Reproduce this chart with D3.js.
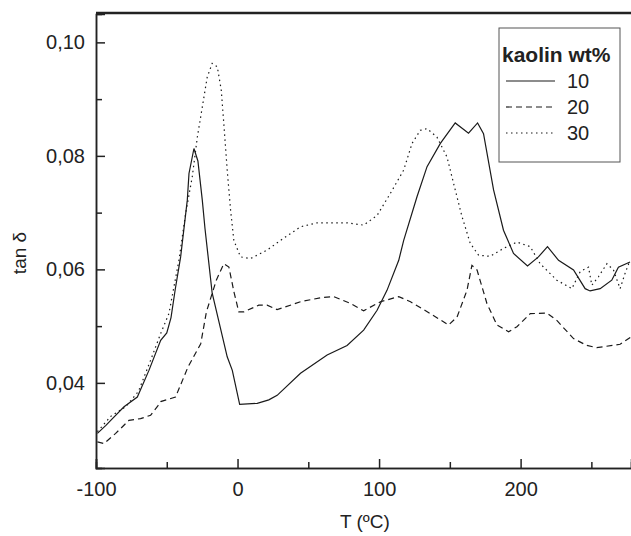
<!DOCTYPE html>
<html>
<head>
<meta charset="utf-8">
<title>tan delta kaolin</title>
<script src="https://cdn.jsdelivr.net/npm/d3@7/dist/d3.min.js"></script>
<style>
  html, body { margin: 0; padding: 0; background: #fff; overflow: hidden; }
  svg { display: block; }
  text { font-family: "Liberation Sans", Arial, sans-serif; fill: #222; }
</style>
</head>
<body>
<svg width="631" height="536" id="mainsvg"></svg>
<script>
// temperatures (°C) and tan delta
const temp10 = [-99, -93, -89.6, -80.2, -70.8, -62.6, -54.3, -50, -47, -44, -40.2, -35.5, -34.3, -30.8, -28, -24.9, -23, -17.9, -7.3, -3.7, 1.5, 13.9, 22.1, 28, 44.5, 63.3, 77.4, 89.1, 98.6, 105.6, 113.9, 117.4, 126.8, 133.9, 143.3, 153.8, 163.2, 169.6, 173.8, 180.9, 187.9, 195, 204.9, 212.6, 219, 226.8, 237.4, 245.6, 249.1, 256.2, 264.4, 269.1, 277.3];
const tan10  = [0.0311, 0.0325, 0.0334, 0.0358, 0.0375, 0.0422, 0.0475, 0.0488, 0.0515, 0.0565, 0.0622, 0.0722, 0.0769, 0.0813, 0.0791, 0.0722, 0.0672, 0.0558, 0.0446, 0.0422, 0.0362, 0.0364, 0.0370, 0.0378, 0.0417, 0.0449, 0.0466, 0.0493, 0.0528, 0.0563, 0.0616, 0.0651, 0.0728, 0.0781, 0.0822, 0.0858, 0.0840, 0.0858, 0.0839, 0.0740, 0.0669, 0.0628, 0.0606, 0.0622, 0.0640, 0.0616, 0.0599, 0.0566, 0.0562, 0.0566, 0.0581, 0.0604, 0.0613];

const temp20 = [-99, -94.4, -86.1, -76.7, -68.5, -61.4, -56.7, -54.3, -43.8, -35, -26, -22, -15, -9.7, -6.1, -2.5, 0.9, 4.4, 15, 20.9, 28, 44.5, 58.6, 68, 79.7, 89.1, 101, 113.9, 122.2, 136.2, 149.1, 155.1, 162.1, 165.6, 169.2, 176.2, 183.3, 191.5, 197.4, 206.8, 218.6, 225.6, 237.4, 246.8, 253.8, 270.3, 278];
const tan20  = [0.0296, 0.0293, 0.0311, 0.0334, 0.0337, 0.0343, 0.0358, 0.0367, 0.0375, 0.0428, 0.0469, 0.0525, 0.0581, 0.0610, 0.0604, 0.0560, 0.0525, 0.0525, 0.0537, 0.0537, 0.0529, 0.0543, 0.0550, 0.0552, 0.0540, 0.0527, 0.0543, 0.0552, 0.0543, 0.0522, 0.0502, 0.0516, 0.0563, 0.0607, 0.0599, 0.0540, 0.0502, 0.0490, 0.0499, 0.0522, 0.0523, 0.0510, 0.0478, 0.0466, 0.0462, 0.0468, 0.0481];

const temp30 = [-99, -89.6, -79, -70, -61.4, -54.3, -48.5, -41.4, -36.7, -32, -28.4, -24.9, -21.4, -17.9, -14.3, -11.5, -9.7, -7.3, -4.9, -2.6, 2.1, 9.2, 20.9, 30.3, 44.5, 56.2, 77.4, 89.1, 98.6, 108, 117.4, 123.3, 129.1, 133.9, 140.9, 148, 152.7, 158.6, 164.4, 170.3, 178.5, 187.9, 197.4, 206.8, 213.8, 225.6, 236.2, 242.1, 248, 250.3, 255, 261, 265.6, 270.3, 273.8, 277.3];
const tan30  = [0.0314, 0.0341, 0.0358, 0.0385, 0.0440, 0.0487, 0.0522, 0.0616, 0.0698, 0.0763, 0.0833, 0.0886, 0.0939, 0.0963, 0.0957, 0.0916, 0.0857, 0.0775, 0.0704, 0.0651, 0.0622, 0.0619, 0.0634, 0.0651, 0.0675, 0.0682, 0.0682, 0.0678, 0.0695, 0.0734, 0.0775, 0.0822, 0.0845, 0.0848, 0.0833, 0.0798, 0.0751, 0.0693, 0.0646, 0.0625, 0.0623, 0.0637, 0.0648, 0.0640, 0.0610, 0.0581, 0.0566, 0.0596, 0.0604, 0.0572, 0.0587, 0.0610, 0.0599, 0.0566, 0.0593, 0.0616];

const seriesNames = ['10', '20', '30'];
const xTicks = [-100, 0, 100, 200];
const xMinor = [-50, 50, 150, 250];
const yTicks = [0.04, 0.06, 0.08, 0.10];
const yMinor = [0.05, 0.07, 0.09];

const svg = d3.select('#mainsvg');
const width = +svg.attr('width');
const height = +svg.attr('height');
const margin = {top: 14, right: 0, bottom: 68, left: 96};
const innerWidth = width - margin.left - margin.right;
const innerHeight = height - margin.top - margin.bottom;

const xScale = d3.scaleLinear().domain([-100, 278]).range([0, innerWidth]);
const yScale = d3.scaleLinear().domain([0.025, 0.105]).range([innerHeight, 0]);

const g = svg.append('g').attr('transform', `translate(${margin.left},${margin.top})`);

g.append('clipPath').attr('id', 'clip')
  .append('rect').attr('width', innerWidth).attr('height', innerHeight);

// comma decimals, plain hyphen for negatives
const fmt = d => d3.format('.2f')(d).replace('.', ',');
const fmtX = d => String(d);

// axes, ticks pointing inwards
const xAxis = d3.axisBottom(xScale).tickValues(xTicks).tickSize(-9).tickPadding(14).tickFormat(fmtX);
const xAxisMinor = d3.axisBottom(xScale).tickValues(xMinor).tickSize(-6).tickFormat('');
const yAxis = d3.axisLeft(yScale).tickValues(yTicks).tickSize(-9).tickPadding(11).tickFormat(fmt);
const yAxisMinor = d3.axisLeft(yScale).tickValues(yMinor).tickSize(-6).tickFormat('');

function styleAxis(sel) {
  sel.select('.domain').attr('stroke', '#222').attr('stroke-width', 1.5);
  sel.selectAll('.tick line').attr('stroke', '#222').attr('stroke-width', 1.5);
  sel.selectAll('.tick text').attr('font-size', '20px').attr('fill', '#222')
    .attr('font-family', '"Liberation Sans", Arial, sans-serif');
}

g.append('g').attr('transform', `translate(0,${innerHeight})`).call(xAxis).call(styleAxis);
g.append('g').attr('transform', `translate(0,${innerHeight})`).call(xAxisMinor).call(styleAxis);
g.append('g').call(yAxis).call(styleAxis);
g.append('g').call(yAxisMinor).call(styleAxis);

// top border
g.append('line').attr('x1', 0).attr('x2', innerWidth).attr('y1', -1).attr('y2', -1)
  .attr('stroke', '#222').attr('stroke-width', 2.5);

// axis titles
g.append('text').attr('x', xScale(90)).attr('y', innerHeight + 60)
  .attr('text-anchor', 'middle').attr('font-size', '19px').text('T (ºC)');
g.append('text').attr('transform', `translate(${26 - margin.left},${253 - margin.top}) rotate(-90)`)
  .attr('text-anchor', 'middle').attr('font-size', '19px').text('tan δ');

// curves
const allSeries = [
  {name: seriesNames[0], xs: temp10, ys: tan10, dash: null},
  {name: seriesNames[1], xs: temp20, ys: tan20, dash: '6,4'},
  {name: seriesNames[2], xs: temp30, ys: tan30, dash: '1.5,3.5'}
];

const line = d3.line().x(d => xScale(d[0])).y(d => yScale(d[1]));

g.append('g').attr('clip-path', 'url(#clip)')
  .selectAll('path').data(allSeries).join('path')
  .attr('d', s => line(s.xs.map((x, i) => [x, s.ys[i]])))
  .attr('fill', 'none')
  .attr('stroke', '#1a1a1a')
  .attr('stroke-width', 1.2)
  .attr('stroke-dasharray', s => s.dash);

// legend
const legend = svg.append('g').attr('transform', 'translate(499,28)');
legend.append('rect').attr('width', 121).attr('height', 134)
  .attr('fill', '#fff').attr('stroke', '#555').attr('stroke-width', 1);
legend.append('text').attr('x', 3).attr('y', 34)
  .attr('font-size', '21px').attr('font-weight', 'bold').text('kaolin wt%');

const items = legend.selectAll('.item').data(allSeries).join('g')
  .attr('class', 'item')
  .attr('transform', (d, i) => `translate(0,${53 + i * 26})`);
items.append('line').attr('x1', 7).attr('x2', 56).attr('y1', 0).attr('y2', 0)
  .attr('stroke', '#1a1a1a').attr('stroke-width', 1.2)
  .attr('stroke-dasharray', d => d.dash);
items.append('text').attr('x', 68).attr('y', 7).attr('font-size', '20px').text(d => d.name);
</script>
</body>
</html>
